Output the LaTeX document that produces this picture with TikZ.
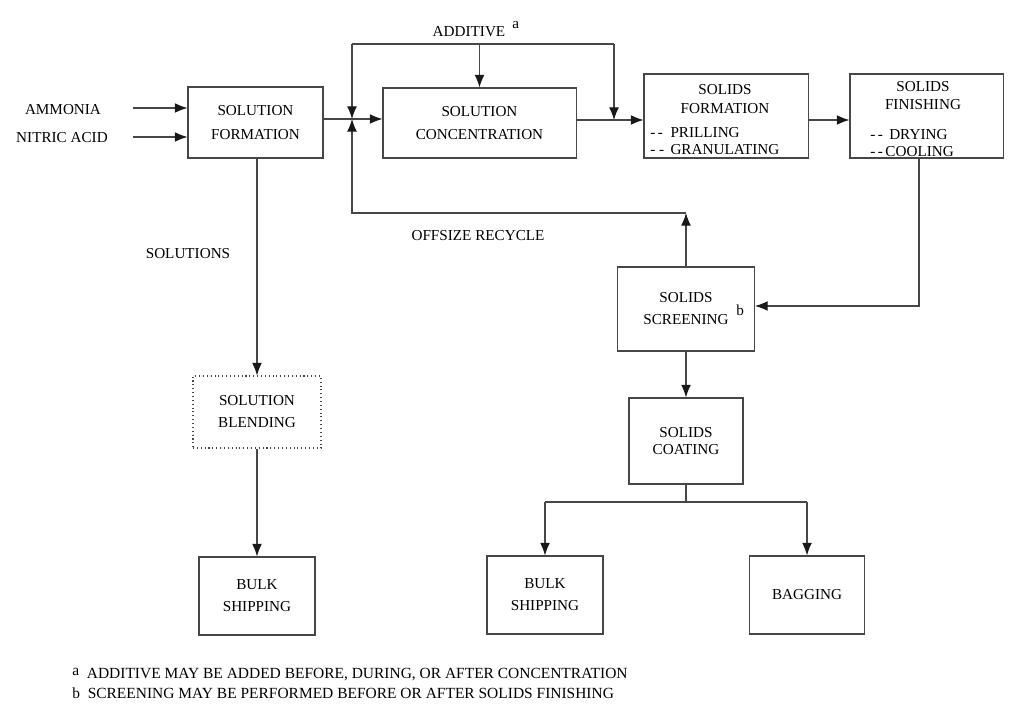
\documentclass[tikz,border=0pt]{standalone}
\usepackage{fontspec}
\setmainfont{Liberation Serif}
\usetikzlibrary{arrows.meta}
\usetikzlibrary{calc}

\begin{document}
\begin{tikzpicture}[
  x=0.025cm, y=-0.025cm,
  every node/.style={font=\fontsize{10.8}{15.6}\selectfont, inner sep=0pt},
  ln/.style={draw=black!72, line width=0.75pt},
  ar/.style={ln, -{Latex[length=9pt,width=7pt,color=black!90]}},
  box/.style={draw=black!72, line width=0.75pt, align=center},
  dotbox/.style={box, dotted},
  lbl/.style={align=center},
  lst/.style={align=left, anchor=west}
  ] %
    \useasboundingbox (0,0) rectangle (1024,714);
    % feeds
    \node[lbl](ammonia) at (63,110) {AMMONIA};
    \node[lbl](nitric) at (62,138) {NITRIC ACID};
    \coordinate (inA) at (133,108);
    \coordinate (inN) at (133,137);
    % top row
    \node[box, minimum width=3.375cm, minimum height=1.775cm, font=\fontsize{10.8}{17.5}\selectfont](form) at (255.5,122.5) {SOLUTION\\FORMATION};
    \node[box, minimum width=4.825cm, minimum height=1.75cm, font=\fontsize{10.8}{16.4}\selectfont](conc) at (479.5,123) {SOLUTION\\CONCENTRATION};
    \node[box, minimum width=4.1cm, minimum height=2.1cm](solform) at (726,116) {};
    \node[lbl, font=\fontsize{10.8}{13.5}\selectfont](solformt) at (725,99.5) {SOLIDS\\FORMATION};
    \node[lst, font=\fontsize{10.8}{12.1}\selectfont](solforml) at (650,141.5) {-\,-\enspace PRILLING\\- - \,GRANULATING};
    \node[box, minimum width=3.825cm, minimum height=2.1cm](solfin) at (926.5,116) {};
    \node[lbl, font=\fontsize{10.8}{12.8}\selectfont](solfint) at (923,96) {SOLIDS\\FINISHING};
    \node[lst, font=\fontsize{10.8}{12.1}\selectfont](solfinl) at (870,143.5) {-\,-\, DRYING\\-\,-\,COOLING};
    % solids side
    \node[box, minimum width=3.425cm, minimum height=2.1cm](screen) at (686,309) {SOLIDS\\SCREENING\rlap{\hspace{5.5pt}\raisebox{7pt}{b}}};
    \node[box, minimum width=2.85cm, minimum height=2.15cm, font=\fontsize{10.8}{12.1}\selectfont](coat) at (686,441) {SOLIDS\\COATING};
    \node[box, minimum width=2.9cm, minimum height=1.95cm](bulkb) at (545,595) {BULK\\SHIPPING};
    \node[box, minimum width=2.875cm, minimum height=1.95cm](bag) at (807,595) {BAGGING};
    % solution side
    \node[dotbox, minimum width=3.2cm, minimum height=1.8cm](blend) at (257,412) {SOLUTION\\BLENDING};
    \node[box, minimum width=2.9cm, minimum height=1.95cm](bulka) at (257,596) {BULK\\SHIPPING};
    % labels
    \node[lbl](additive) at (469,29) {ADDITIVE\rlap{\hspace{5pt}\raisebox{6pt}{a}}};
    \node[lbl](solutions) at (188,254) {SOLUTIONS};
    \node[lbl](offsize) at (478,236) {OFFSIZE RECYCLE};
    \node[lst, font=\fontsize{11}{14.2}\selectfont](notes) at (72,683) {\raisebox{2pt}{a}\enspace ADDITIVE MAY BE ADDED BEFORE, DURING, OR AFTER CONCENTRATION\\b\enspace SCREENING MAY BE PERFORMED BEFORE OR AFTER SOLIDS FINISHING};
    % junction points
    \coordinate (jn) at (352,119);
    \coordinate (addl) at (352,44);
    \coordinate (addr) at (614,44);
    \coordinate (rcl) at (352,213);
    \coordinate (fin) at (919,306);
    \coordinate (br) at (688,502);
    % connectors
    \draw[ar](inA) -- (form.west |- inA);
    \draw[ar](inN) -- (form.west |- inN);
    \draw[ln](form.east |- jn) -- (jn);
    \draw[ar](jn) -- (conc.west |- jn);
    \draw[ln](addl) -- (addr);
    \draw[ar](addl) -- (jn);
    \draw[ar](conc.north |- addl) -- (conc.north);
    \draw[ar](addr) -- (addr |- 0,120);
    \draw[ar](conc.east |- 0,120) -- (solform.west |- 0,120);
    \draw[ar](solform.east |- 0,120) -- (solfin.west |- 0,120);
    \draw[ar](solfin.south -| fin) -- (fin) -- (screen.east |- fin);
    \draw[ar](screen.north) -- (screen.north |- rcl);
    \draw[ar](screen.north |- rcl) -- (rcl) -- (jn);
    \draw[ar](screen.south) -- (coat.north);
    \draw[ln](coat.south) -- (coat.south |- br);
    \draw[ln](bulkb.north |- br) -- (bag.north |- br);
    \draw[ar](bulkb.north |- br) -- (bulkb.north);
    \draw[ar](bag.north |- br) -- (bag.north);
    \draw[ar](form.south -| blend.north) -- (blend.north);
    \draw[ar](blend.south) -- (bulka.north);
\end{tikzpicture}
\end{document}
